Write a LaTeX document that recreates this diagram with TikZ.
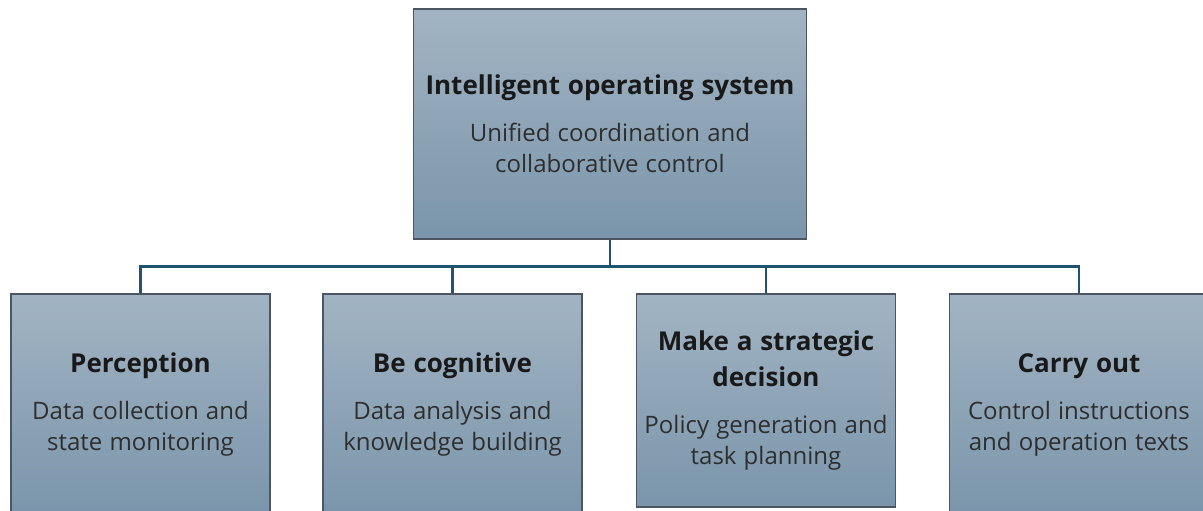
\documentclass[tikz,border=0pt]{standalone}
\usepackage{fontspec}
\setmainfont{Open Sans}
\usepackage{xcolor}
\usetikzlibrary{calc,positioning}
\definecolor{boxtop}{HTML}{A2B4C3}
\definecolor{boxbottom}{HTML}{7A95AB}
\definecolor{boxline}{HTML}{4C5660}
\definecolor{linkblue}{HTML}{1E5470}
\definecolor{subgray}{HTML}{2E2E2E}
\newcommand{\boxtext}[2]{%
  {\fontsize{26}{36}\selectfont\bfseries\spaceskip=0.3em\color{black!90}#1\par}%
  \vspace{16pt}%
  {\fontsize{24}{31}\selectfont\spaceskip=0.3em\color{subgray}#2\par}}

\begin{document}
\begin{tikzpicture}[x=1pt,y=-1pt,
    block/.style={draw=boxline,line width=1.2pt,top color=boxtop,
      bottom color=boxbottom,minimum width=259pt,minimum height=217pt,
      text width=256pt,align=center,inner sep=1pt},
    link/.style={draw=linkblue,line width=2.6pt}]
    \useasboundingbox[fill=white] (0,0) rectangle (1203,511);

    % Top level: the operating system.
    \node[block,minimum width=393pt,minimum height=230pt,text width=385pt]
      (sys) at (610,124)
      {\boxtext{Intelligent operating system}{Unified coordination and\\collaborative control}};

    % Second level: four stages.
    \node[block,minimum height=222pt] (per) at (140.5,405)
      {\boxtext{Perception}{Data collection and\\state monitoring}};
    \node[block,minimum height=222pt] (cog) at (452.5,405)
      {\boxtext{Be cognitive}{Data analysis and\\knowledge building}};
    \node[block,minimum height=213pt] (dec) at (766,400.5)
      {\boxtext{Make a strategic\\decision}{Policy generation and\\task planning}};
    \node[block,minimum height=222pt] (exe) at (1079,405)
      {\boxtext{Carry out}{Control instructions\\and operation texts}};

    % Tree connectors.
    \draw[link] (sys.south) -- ++(0,27) coordinate (bus);
    \foreach \b in {per,cog,dec,exe}
      \draw[link] (bus) -| (\b.north);
  \end{tikzpicture}
\end{document}
